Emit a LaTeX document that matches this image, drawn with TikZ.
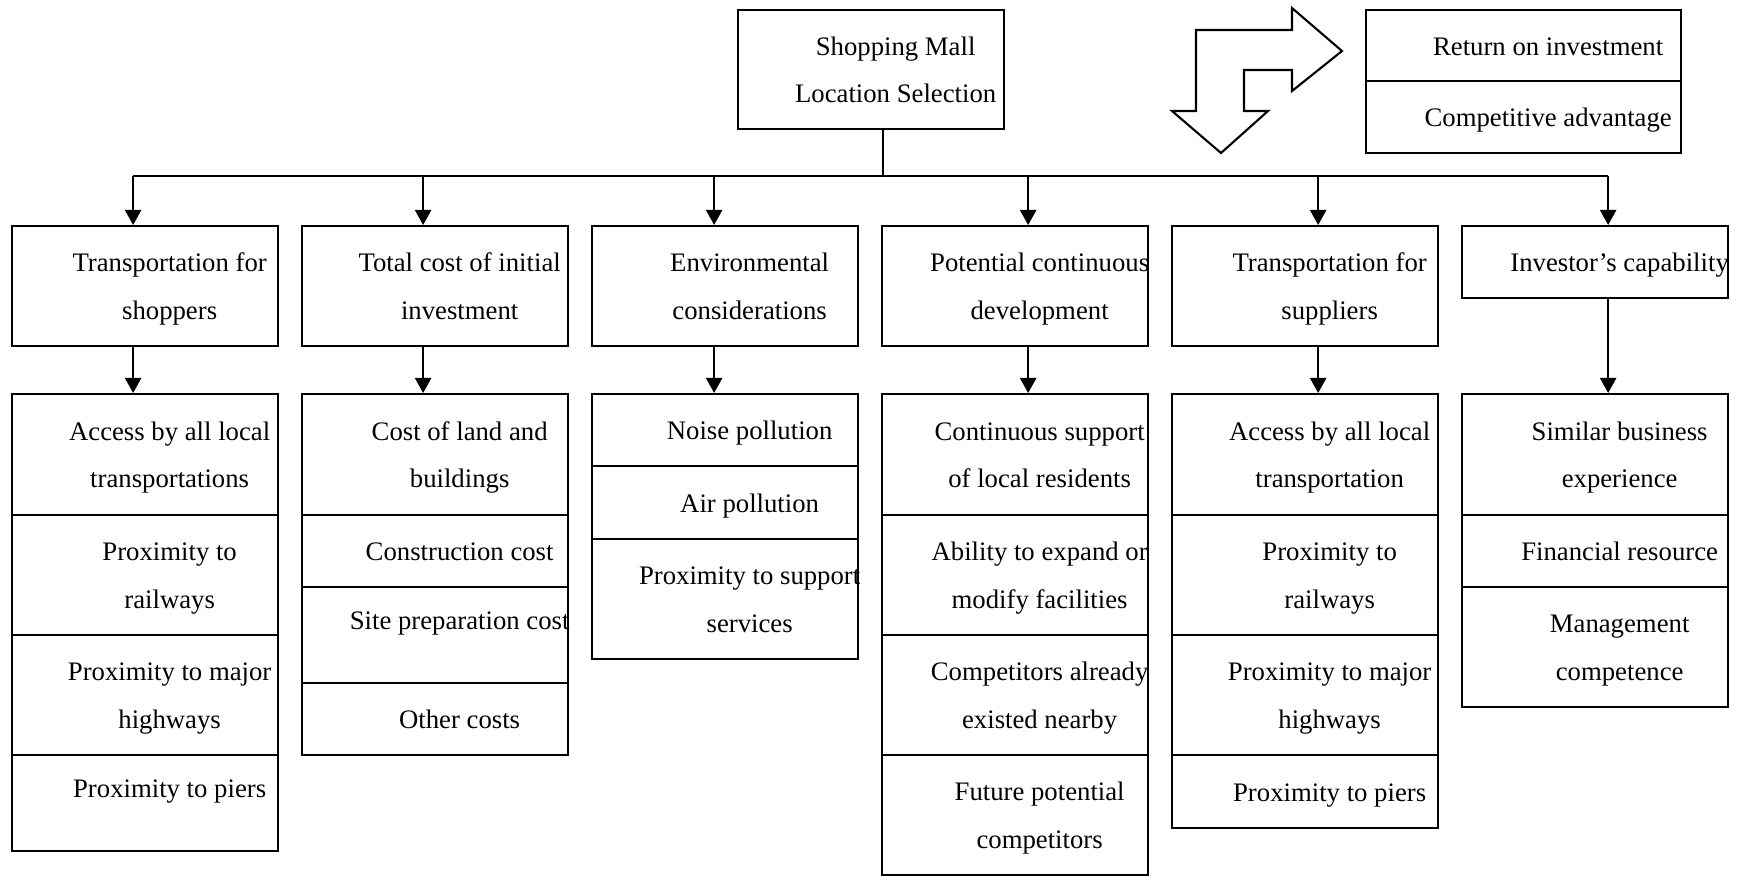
\documentclass[tikz,border=0pt]{standalone}
\usepackage{fontspec}
\setmainfont{Liberation Serif}
\usetikzlibrary{arrows.meta}
% one cell: [text options]{name}{left}{top}{bottom}{text}
\newcommand\mcell[6][]{%
  \node[cell, minimum height={(#5-#4)*0.01cm}, label={[ctext,#1]center:{\strut #6\strut}}] (#2) at (#3,#4) {};}
\begin{document}
\begin{tikzpicture}[x=0.01cm,y=-0.01cm,
  cell/.style={draw, line width=0.6pt, anchor=north west, inner sep=0pt, minimum width=2.66cm},
  ctext/.style={align=center, xshift=0.245cm, inner sep=0pt, font=\fontsize{7.6}{13.5}\selectfont},
  arr/.style={line width=0.6pt, -{Triangle[length=4.3pt,width=4.6pt]}},
  link/.style={line width=0.6pt},
  bent/.style={draw, line width=0.6pt, fill=white, line join=miter}]
\useasboundingbox (0,0) rectangle (1750,875);

% goal box
\mcell{top}{737}{9}{128}{Shopping Mall\\Location Selection}

% outcomes
\node[cell, minimum width=3.15cm, minimum height=0.71cm, label={[ctext]center:{\strut Return on investment\strut}}] (roi) at (1365,9) {};
\node[cell, minimum width=3.15cm, minimum height=0.72cm, label={[ctext]center:{\strut Competitive advantage\strut}}] (adv) at (1365,80) {};

% bent double arrow
\path[bent] (1196,30) -- (1292,30) -- (1292,8) -- (1342,51) -- (1292,91) -- (1292,70)
  -- (1244,70) -- (1244,111) -- (1268,111) -- (1221,153) -- (1172,111) -- (1196,111) -- cycle;

% criteria
\mcell{t1}{11}{225}{345}{Transportation for\\shoppers}
\mcell{t2}{301}{225}{345}{Total cost of initial\\investment}
\mcell{t3}{591}{225}{345}{Environmental\\considerations}
\mcell{t4}{881}{225}{345}{Potential continuous\\development}
\mcell{t5}{1171}{225}{345}{Transportation for\\suppliers}
\mcell{t6}{1461}{225}{297}{Investor’s capability}

% sub-criteria
\mcell{s11}{11}{393}{514}{Access by all local\\transportations}
\mcell{s12}{11}{514}{634}{Proximity to\\railways}
\mcell{s13}{11}{634}{754}{Proximity to major\\highways}
\mcell[yshift=0.15cm]{s14}{11}{754}{850}{Proximity to piers}

\mcell{s21}{301}{393}{514}{Cost of land and\\buildings}
\mcell{s22}{301}{514}{586}{Construction cost}
\mcell[yshift=0.155cm]{s23}{301}{586}{682}{Site preparation cost}
\mcell{s24}{301}{682}{754}{Other costs}

\mcell{s31}{591}{393}{465}{Noise pollution}
\mcell{s32}{591}{465}{538}{Air pollution}
\mcell{s33}{591}{538}{658}{Proximity to support\\services}

\mcell{s41}{881}{393}{514}{Continuous support\\of local residents}
\mcell{s42}{881}{514}{634}{Ability to expand or\\modify facilities}
\mcell{s43}{881}{634}{754}{Competitors already\\existed nearby}
\mcell{s44}{881}{754}{874}{Future potential\\competitors}

\mcell{s51}{1171}{393}{514}{Access by all local\\transportation}
\mcell{s52}{1171}{514}{634}{Proximity to\\railways}
\mcell{s53}{1171}{634}{754}{Proximity to major\\highways}
\mcell{s54}{1171}{754}{827}{Proximity to piers}

\mcell{s61}{1461}{393}{514}{Similar business\\experience}
\mcell{s62}{1461}{514}{586}{Financial resource}
\mcell{s63}{1461}{586}{706}{Management\\competence}

% connectors
\coordinate (bus) at (882,176);
\coordinate (stem) at ([xshift=0.12cm]top.south);
\coordinate (a1) at ([xshift=-0.12cm]t1.south);
\coordinate (a2) at ([xshift=-0.12cm]t2.south);
\coordinate (a3) at ([xshift=-0.11cm]t3.south);
\coordinate (a4) at ([xshift=0.13cm]t4.south);
\coordinate (a5) at ([xshift=0.13cm]t5.south);
\coordinate (a6) at ([xshift=0.13cm]t6.south);

\draw[link] (stem) -- (stem |- bus);
\draw[link] (a1 |- bus) -- (a6 |- bus);
\foreach \i in {1,...,6} {
  \draw[arr] (a\i |- bus) -- (a\i |- t\i.north);
  \draw[arr] (a\i) -- (a\i |- s\i1.north);
}
\end{tikzpicture}
\end{document}
